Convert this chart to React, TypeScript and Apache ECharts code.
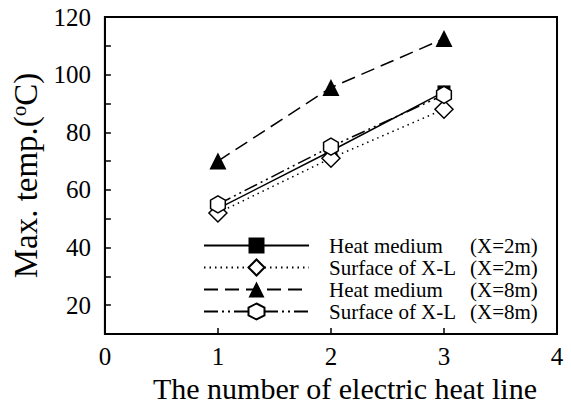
import React, { useEffect, useRef } from "react";
import * as echarts from "echarts";

// Number of electric heat lines (x values)
const heatLines = [1, 2, 3];

// Maximum temperature (°C) for each configuration
const heatMedium2m = [53.5, 73.5, 94];
const surfaceXL2m = [52, 71, 88];
const heatMedium8m = [70, 95.5, 112.5];
const surfaceXL8m = [55, 75, 93];

const seriesNames = [
  "Heat medium    (X=2m)",
  "Surface of X-L (X=2m)",
  "Heat medium    (X=8m)",
  "Surface of X-L (X=8m)",
];

const xTicks = [0, 1, 2, 3, 4];
const yLabelStep = 20;

const FONT = "'Liberation Serif', 'DejaVu Serif', serif";
const HEXAGON = "path://M0,-10L8.66,-5L8.66,5L0,10L-8.66,5L-8.66,-5Z";

const pairs = (ys: number[]) => heatLines.map((x, i) => [x, ys[i]]);

export default function App() {
  const ref = useRef<HTMLDivElement>(null);

  useEffect(() => {
    if (!ref.current) return;
    const chart = echarts.init(ref.current, null, { renderer: "svg" });

    const lineSeries = (name: string, ys: number[], lineType: any, symbol: string, size: number, filled: boolean) => ({
      name,
      type: "line",
      data: pairs(ys),
      symbol,
      symbolSize: size,
      symbolKeepAspect: true,
      showSymbol: true,
      lineStyle: { color: "#000", width: 1.5, type: lineType },
      itemStyle: {
        color: filled ? "#000" : "#fff",
        borderColor: "#000",
        borderWidth: filled ? 0 : 1.5,
        opacity: 1,
      },
      emphasis: { disabled: true },
    });

    chart.setOption({
      animation: false,
      backgroundColor: "#fff",
      textStyle: { fontFamily: FONT, color: "#000" },
      grid: {
        left: 104,
        top: 17,
        right: 14,
        bottom: 76,
        show: true,
        borderColor: "#000",
        borderWidth: 2,
        backgroundColor: "transparent",
      },
      legend: {
        orient: "vertical",
        left: 198,
        top: 230,
        itemWidth: 105,
        itemHeight: 20,
        itemGap: 1,
        selectedMode: false,
        data: seriesNames,
        formatter: (name: string) => {
          const idx = name.lastIndexOf("(");
          return `{a|${name.slice(0, idx).trim()}}{b|${name.slice(idx)}}`;
        },
        textStyle: {
          fontFamily: FONT,
          fontSize: 21,
          color: "#000",
          lineHeight: 20,
          padding: [0, 0, 0, 15],
          rich: {
            a: { fontFamily: FONT, fontSize: 21, color: "#000", width: 141, lineHeight: 20 },
            b: { fontFamily: FONT, fontSize: 21, color: "#000", lineHeight: 20 },
          },
        },
      },
      xAxis: {
        type: "value",
        min: xTicks[0],
        max: xTicks[xTicks.length - 1],
        interval: 1,
        name: "The number of electric heat line",
        nameLocation: "middle",
        nameGap: 38,
        nameTextStyle: { fontFamily: FONT, fontSize: 30, color: "#000", padding: [0, 0, 0, 28] },
        axisLine: { show: true, lineStyle: { color: "#000", width: 2 } },
        axisTick: { show: true, inside: true, length: 6, lineStyle: { color: "#000", width: 1.5 } },
        axisLabel: { fontFamily: FONT, fontSize: 25, color: "#000", margin: 10 },
        splitLine: { show: false },
      },
      yAxis: {
        type: "value",
        min: 10,
        max: 120,
        interval: 10,
        name: "{a|Max. temp.(}{s|o}{a|C)}",
        nameLocation: "middle",
        nameGap: 52,
        nameTextStyle: {
          fontFamily: FONT,
          fontSize: 33,
          color: "#000",
          rich: {
            a: { fontFamily: FONT, fontSize: 33, color: "#000", lineHeight: 36 },
            s: { fontFamily: FONT, fontSize: 21, color: "#000", verticalAlign: "top", lineHeight: 22 },
          },
        },
        axisLine: { show: true, lineStyle: { color: "#000", width: 2 } },
        axisTick: { show: true, inside: true, length: 6, lineStyle: { color: "#000", width: 1.5 } },
        axisLabel: {
          fontFamily: FONT,
          fontSize: 25,
          color: "#000",
          margin: 14,
          formatter: (v: number) => (v % yLabelStep === 0 ? String(v) : ""),
        },
        splitLine: { show: false },
      },
      series: [
        lineSeries(seriesNames[0], heatMedium2m, "solid", "rect", 13, true),
        lineSeries(seriesNames[1], surfaceXL2m, [1.5, 4], "diamond", 18, false),
        lineSeries(seriesNames[2], heatMedium8m, [14, 7], "triangle", 17, true),
        lineSeries(seriesNames[3], surfaceXL8m, [14, 4, 2, 4, 2, 4], HEXAGON, 17, false),
      ],
    } as any);

    return () => chart.dispose();
  }, []);

  return (
    <div
      ref={ref}
      style={{ position: "fixed", left: 0, top: 0, width: 571, height: 410, background: "#fff" }}
    />
  );
}
